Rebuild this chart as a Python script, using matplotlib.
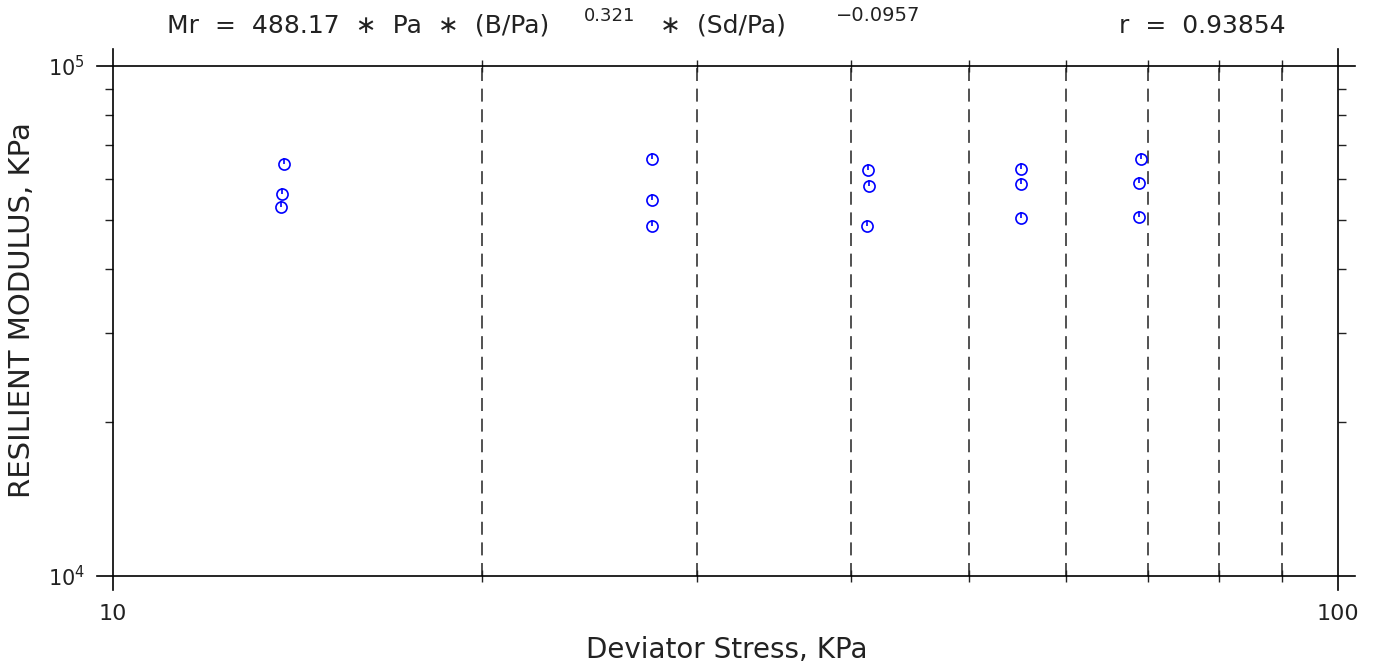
import matplotlib
matplotlib.use('Agg')
import matplotlib.pyplot as plt
from matplotlib.ticker import FixedLocator, FixedFormatter, LogLocator, NullFormatter

plt.rcParams['font.family'] = 'DejaVu Sans'
plt.rcParams['mathtext.fontset'] = 'dejavusans'

# data (deviator stress vs resilient modulus)
stress = [13.78, 13.74, 13.71,
          27.52, 27.56, 27.56,
          41.31, 41.38, 41.26,
          55.09, 55.11, 55.09,
          69.0, 68.8, 68.8]
modulus = [64230, 56030, 52980,
           65620, 54620, 48570,
           62530, 58240, 48640,
           62890, 58620, 50280,
           65620, 59050, 50500]

grid_x = [20, 30, 40, 50, 60, 70, 80, 90]
x_major = [10, 100]
x_major_labels = ['10', '100']
y_major = [1e4, 1e5]
y_major_labels = [r'$10^{4}$', r'$10^{5}$']

# title pieces: main text and the two exponents
title_parts = ['Mr  =  488.17  \u2217  Pa  \u2217  (B/Pa)', '\u2217  (Sd/Pa)']
title_exps = ['0.321', '\u22120.0957']
title_r = 'r  =  0.93854'
xlabel = 'Deviator Stress, KPa'
ylabel = 'RESILIENT MODULUS, KPa'

W, H = 1375, 667
fig = plt.figure(figsize=(W / 100, H / 100), dpi=100)
ax = fig.add_axes([113 / W, 1 - 576 / H, 1225 / W, 510 / H])
ax.set_xscale('log')
ax.set_yscale('log')
ax.set_xlim(10, 100)
ax.set_ylim(1e4, 1e5)

for s in ax.spines.values():
    s.set_visible(False)

# frame lines that overshoot the plot box
for yv in (0, 1):
    ax.plot([-0.013, 1.014], [yv, yv], transform=ax.transAxes,
            color='black', lw=1.2, clip_on=False, zorder=3)
for xv in (0, 1):
    ax.plot([xv, xv], [-0.027, 1.033], transform=ax.transAxes,
            color='black', lw=1.2, clip_on=False, zorder=3)

# dashed vertical grid at the minor decades
for gx in grid_x:
    ax.axvline(gx, color='#222222', lw=1.1, ls=(0, (8.5, 5)), zorder=1)

# points: open circle plus a stroke from centre to top
ax.plot(stress, modulus, ls='none', marker='o', ms=8, mfc='none',
        mec='#0000ff', mew=1.2, zorder=4)
ax.plot(stress, modulus, ls='none', marker=[(0, 0), (0, 1)], ms=8,
        mfc='none', mec='#0000ff', mew=1.2, zorder=4)

# ticks
ax.xaxis.set_major_locator(FixedLocator(x_major))
ax.xaxis.set_major_formatter(FixedFormatter(x_major_labels))
ax.xaxis.set_minor_locator(FixedLocator(grid_x))
ax.xaxis.set_minor_formatter(NullFormatter())
ax.yaxis.set_major_locator(FixedLocator(y_major))
ax.yaxis.set_major_formatter(FixedFormatter(y_major_labels))
ax.yaxis.set_minor_locator(LogLocator(base=10, subs=range(2, 10)))
ax.yaxis.set_minor_formatter(NullFormatter())

ax.tick_params(axis='x', which='major', length=0, labelsize=16, pad=20,
               colors='#222222')
ax.tick_params(axis='x', which='minor', direction='inout', length=9,
               width=1, top=True, bottom=True, color='#222222')
ax.tick_params(axis='y', which='major', length=0, labelsize=15, pad=20,
               colors='#222222')
ax.tick_params(axis='y', which='minor', direction='out', length=6,
               width=1, left=True, right=True, color='#222222')

tc = '#222222'
fig.text(167 / W, 1 - 33 / H, title_parts[0], ha='left', va='baseline',
         fontsize=18, color=tc)
fig.text(584 / W, 1 - 21 / H, title_exps[0], ha='left', va='baseline',
         fontsize=13, color=tc)
fig.text(660 / W, 1 - 33 / H, title_parts[1], ha='left', va='baseline',
         fontsize=18, color=tc)
fig.text(836 / W, 1 - 21 / H, title_exps[1], ha='left', va='baseline',
         fontsize=14, color=tc)
fig.text(1286 / W, 1 - 33 / H, title_r, ha='right', va='baseline',
         fontsize=18, color=tc)
fig.text(727 / W, 1 - 650 / H, xlabel, ha='center', va='center',
         fontsize=20, color=tc)
fig.text(22 / W, 1 - 310 / H, ylabel, ha='center', va='center',
         rotation=90, fontsize=21, color=tc)

fig.savefig('out.png', dpi=100)
